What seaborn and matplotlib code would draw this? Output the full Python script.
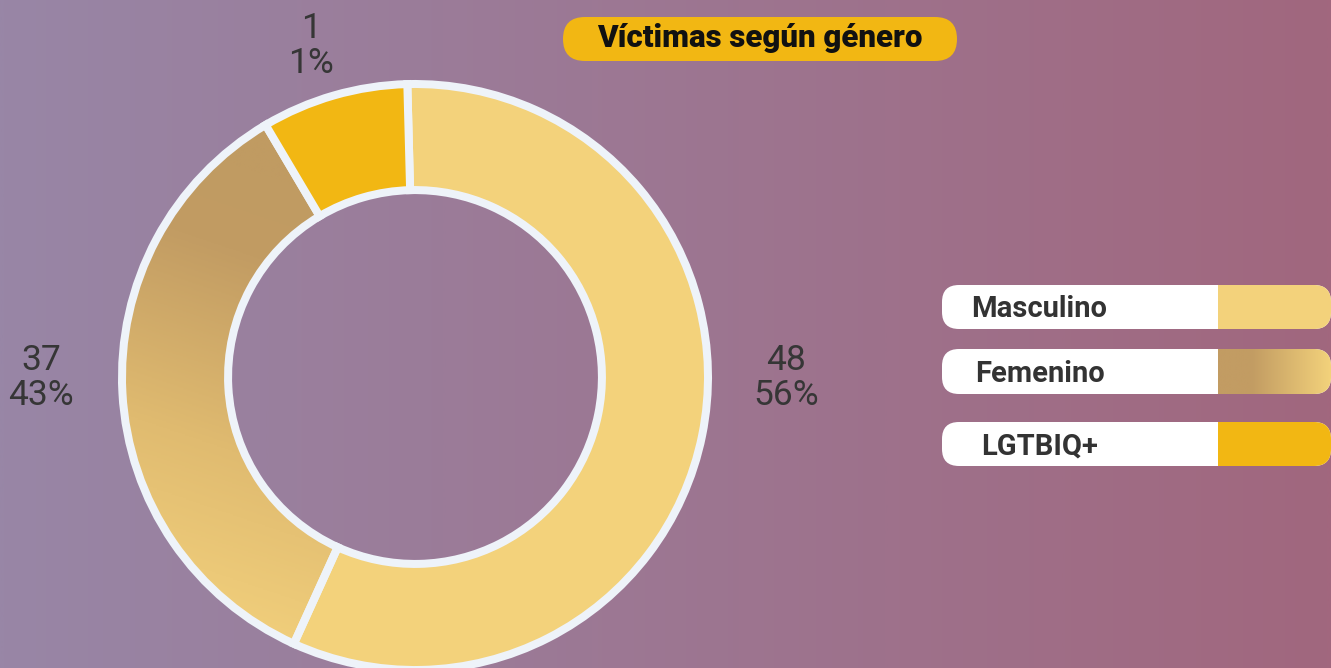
import numpy as np
import matplotlib
matplotlib.use("Agg")
import matplotlib.pyplot as plt
from matplotlib.patches import FancyBboxPatch, Rectangle
from matplotlib.colors import LinearSegmentedColormap
import seaborn as sns

# ---------------- data ----------------
categories = ["Masculino", "Femenino", "LGTBIQ+"]
counts = [48, 37, 1]
percent_labels = ["56%", "43%", "1%"]
# arc sizes of the ring as drawn in the reference (share of the circle, %)
slice_sizes = [57.2, 34.7, 8.1]
title = "Víctimas según género"

# ---------------- style ----------------
sns.set_theme(style="white")
plt.rcParams['font.family'] = ['Roboto', 'DejaVu Sans']

palette = sns.color_palette(['#F3D27B', '#C29C63', '#F2B713'])
edge_col = '#EEF3F9'
text_dark = '#363636'

W, H = 1331, 668
fig = plt.figure(figsize=(W / 100, H / 100), dpi=100)

# background axes in pixel coordinates (origin top-left)
bg = fig.add_axes([0, 0, 1, 1], zorder=0)
grad = np.linspace(0, 1, 512)[None, :]
cmap_bg = LinearSegmentedColormap.from_list('bg', ['#9886A6', '#A1677E'])
bg.imshow(grad, cmap=cmap_bg, extent=(0, W, H, 0), aspect='auto', zorder=0)
bg.set_xlim(0, W)
bg.set_ylim(H, 0)
bg.axis('off')

# ---------------- donut ----------------
R = 293            # px, radius of the wedge path
cx, cy = 415, 377  # px, centre (top-left origin)
lim = 1.45
half = lim * R
pie_ax = fig.add_axes([(cx - half) / W, (H - cy - half) / H, 2 * half / W, 2 * half / H], zorder=1)
pie_ax.patch.set_alpha(0)

wedges, _ = pie_ax.pie(
    slice_sizes, colors=palette, startangle=91.5, counterclock=False, radius=1.0,
    wedgeprops=dict(width=0.362, edgecolor=edge_col, linewidth=8 * 72 / 100),
)

# gradient fill for Femenino wedge
fem = wedges[1]
n = 500
xs = np.linspace(-1.05, 1.05, n)
X, Y = np.meshgrid(xs, xs)
p0 = np.array([-0.30, 0.62])
p1 = np.array([-0.80, -0.85])
d = p1 - p0
t = np.clip(((X - p0[0]) * d[0] + (Y - p0[1]) * d[1]) / (d @ d), 0, 1)
cmap_fem = LinearSegmentedColormap.from_list(
    'fem', [(0, '#C09B62'), (0.18, '#C29C63'), (0.6, '#E0BB70'), (1, '#F2D07C')])
im = pie_ax.imshow(t, cmap=cmap_fem, extent=(-1.05, 1.05, -1.05, 1.05), origin='lower',
                   zorder=0.9, interpolation='bilinear')
im.set_clip_path(fem)
fem.set_facecolor('none')

pie_ax.set_xlim(-lim, lim)
pie_ax.set_ylim(-lim, lim)
pie_ax.set_aspect('equal')
pie_ax.axis('off')

# value labels (pixel positions of the text baselines)
label_pos = [(786, 405), (41, 405), (311, 73)]
for (x, y), c, p in zip(label_pos, counts, percent_labels):
    bg.text(x, y, f"{c}\n{p}", ha='center', va='baseline', fontsize=25.5,
            fontweight='normal', color=text_dark, linespacing=1.08, zorder=5)

# ---------------- title pill ----------------
bg.add_patch(FancyBboxPatch((563, 17), 394, 44, boxstyle="round,pad=0,rounding_size=22",
                            fc='#F2B713', ec='none', zorder=2))
bg.text(760, 47, title, ha='center', va='baseline', fontsize=22.5, fontweight='heavy',
        color='#111111', zorder=3)

# ---------------- legend pills ----------------
rows = [(285, 329, 971, 317), (349, 394, 975, 382), (422, 466, 981, 455)]
for i, (cat, (y0, y1, tx, tb)) in enumerate(zip(categories, rows)):
    h = y1 - y0
    bg.add_patch(FancyBboxPatch((942, y0), W - 942, h, boxstyle="round,pad=0,rounding_size=17",
                                fc='white', ec='none', zorder=2))
    sw = FancyBboxPatch((1185, y0), W - 1185, h, boxstyle="round,pad=0,rounding_size=17",
                        fc=palette[i], ec='none', zorder=3)
    bg.add_patch(sw)
    if cat == "Femenino":
        sw.set_facecolor('none')
        g = np.linspace(0, 1, 256)[None, :]
        cm_sw = LinearSegmentedColormap.from_list(
            'sw', [(0, '#C29C63'), (0.3, '#C29C63'), (1, '#F3D27B')])
        gi = bg.imshow(g, cmap=cm_sw, extent=(1218, W, y1, y0), aspect='auto', zorder=3)
        gi.set_clip_path(sw)
    bg.add_patch(Rectangle((1180, y0), 1218 - 1180, h, fc='white', ec='none', zorder=4))
    bg.text(tx, tb, cat, ha='left', va='baseline', fontsize=21, fontweight='bold',
            color='#333333', zorder=5)

bg.set_xlim(0, W)
bg.set_ylim(H, 0)

fig.savefig("out.png", dpi=100)
